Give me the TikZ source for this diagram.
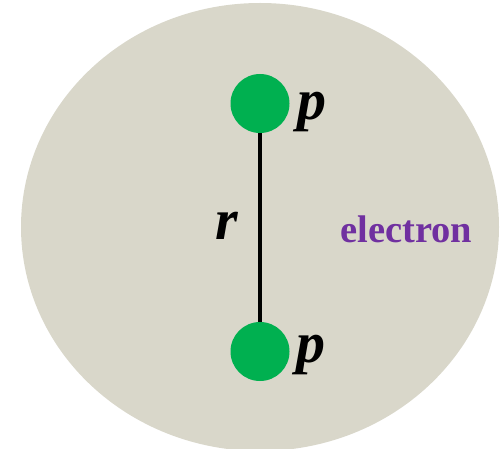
\documentclass[tikz,border=0pt]{standalone}
\usepackage{fontspec}
\setmainfont{Liberation Serif}
\definecolor{cloud}{HTML}{D9D7CA}
\definecolor{proton}{HTML}{00B050}
\definecolor{elec}{HTML}{7030A0}
\tikzset{
  protonnode/.style={circle,fill=proton,minimum size=59pt,inner sep=0pt},
  lbl/.style={inner sep=0pt,font=\fontsize{58}{58}\selectfont\bfseries\itshape},
  bond/.style={line width=4pt,black}
}
\begin{document}
\begin{tikzpicture}[x=1pt,y=-1pt]
\useasboundingbox (0,0) rectangle (503,449);
\begin{scope}
\clip (0,0) rectangle (503,449);
\fill[cloud] (260,227) ellipse [x radius=239, y radius=224];
\end{scope}
\node[protonnode] (p1) at (260,103.5) {};
\node[protonnode] (p2) at (260,351.5) {};
\draw[bond] (p1.south) -- (p2.north);
\node[lbl,anchor=base west] (l1) at (297,120) {p};
\node[lbl,anchor=base west] (l2) at (296,362) {p};
\node[lbl,anchor=base] (lr) at (227,239) {r};
\node[inner sep=0pt,anchor=base west,text=elec,font=\fontsize{38.5}{38.5}\selectfont\bfseries] (el) at (340,242) {electron};
\end{tikzpicture}
\end{document}
